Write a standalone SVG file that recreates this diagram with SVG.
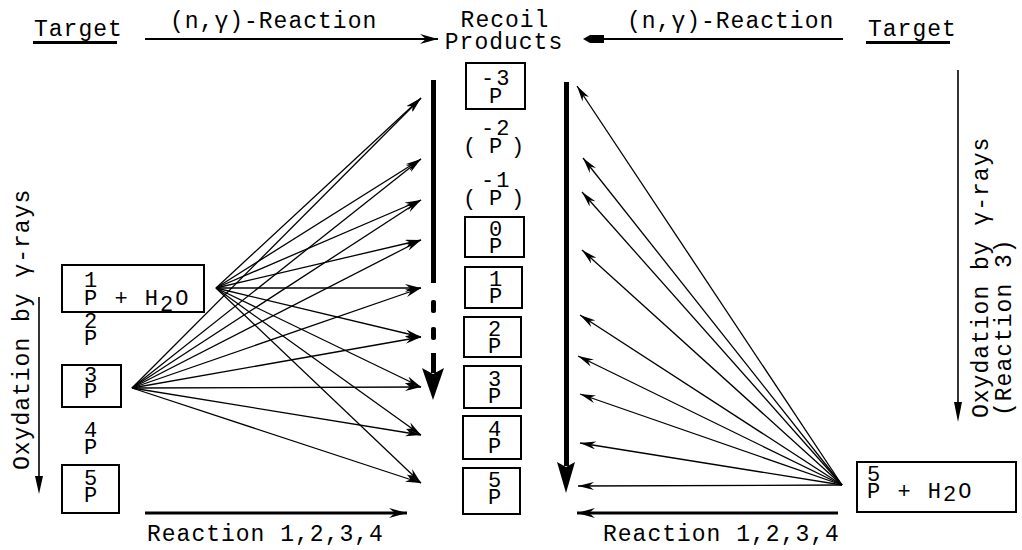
<svg xmlns="http://www.w3.org/2000/svg" width="1022" height="550" viewBox="0 0 1022 550">
<style>
.t{font-family:"Liberation Mono","DejaVu Sans Mono",monospace;font-size:23px;letter-spacing:1px;fill:#000}
.s{font-family:"Liberation Mono","DejaVu Sans Mono",monospace;font-size:22px;letter-spacing:2px;fill:#000}
.b{fill:none;stroke:#000;stroke-width:2}
.fan line{stroke:#000;stroke-width:1.3;marker-end:url(#ah)}
.thin{stroke:#000;stroke-width:1.6;fill:none}
</style>
<defs>
<marker id="ah" viewBox="0 0 16 8" refX="16" refY="4" markerWidth="16" markerHeight="8" orient="auto" markerUnits="userSpaceOnUse">
<path d="M0,0 L16,4 L0,8 L5,4 z" fill="#000"/>
</marker>
<marker id="ahb" viewBox="0 0 18 10" refX="18" refY="5" markerWidth="18" markerHeight="10" orient="auto" markerUnits="userSpaceOnUse">
<path d="M0,0 L18,5 L0,10 L6,5 z" fill="#000"/>
</marker>
</defs>
<rect width="1022" height="550" fill="#fff"/>

<!-- header -->
<g id="target-left">
<text class="t" x="34" y="36">Target</text>
<rect x="33" y="41" width="84" height="3" fill="#000"/>
</g>
<g id="recoil-products">
<text class="t" x="505" y="27" text-anchor="middle">Recoil<tspan x="504" dy="22">Products</tspan></text>
</g>
<g id="target-right">
<text class="t" x="868" y="36">Target</text>
<rect x="866" y="41" width="84" height="3" fill="#000"/>
</g>
<text class="t" x="170" y="28">(n,γ)-Reaction</text>
<text class="t" x="627" y="28">(n,γ)-Reaction</text>

<!-- left side states -->
<g id="left-p1">
<rect class="b" x="62" y="265" width="142" height="47"/>
<text class="s" x="84" y="287">1<tspan x="84" dy="18">P + H</tspan><tspan dy="6">2</tspan><tspan dy="-6">O</tspan></text>
</g>
<g id="left-p2">
<text class="s" x="84" y="328">2<tspan x="84" dy="17">P</tspan></text>
</g>
<g id="left-p3">
<rect class="b" x="62" y="365" width="59" height="42"/>
<text class="s" x="84" y="382">3<tspan x="84" dy="16">P</tspan></text>
</g>
<g id="left-p4">
<text class="s" x="84" y="437">4<tspan x="84" dy="17">P</tspan></text>
</g>
<g id="left-p5">
<rect class="b" x="62" y="465" width="57" height="48"/>
<text class="s" x="84" y="485">5<tspan x="84" dy="17">P</tspan></text>
</g>
<g id="left-oxydation">
<text class="t" transform="translate(29,470) rotate(-90)">Oxydation by γ-rays</text>
<line class="thin" x1="39" y1="297" x2="39" y2="480"/>
<polygon points="35,476 39,494 43,476" fill="#000"/>
</g>

<!-- center column -->
<g id="c-m3">
<rect class="b" x="466" y="63" width="59" height="46"/>
<text class="s" x="481" y="85">-3<tspan x="489" dy="18">P</tspan></text>
</g>
<g id="c-m2">
<text class="s" x="481" y="135">-2<tspan x="463" dy="18">(</tspan><tspan x="489">P</tspan><tspan x="511">)</tspan></text>
</g>
<g id="c-m1">
<text class="s" x="481" y="187">-1<tspan x="463" dy="18">(</tspan><tspan x="489">P</tspan><tspan x="511">)</tspan></text>
</g>
<g id="c-0">
<rect class="b" x="465" y="217" width="59" height="40"/>
<text class="s" x="489" y="236">0<tspan x="489" dy="17">P</tspan></text>
</g>
<g id="c-1">
<rect class="b" x="465" y="267" width="57" height="41"/>
<text class="s" x="489" y="286">1<tspan x="489" dy="17">P</tspan></text>
</g>
<g id="c-2">
<rect class="b" x="464" y="317" width="57" height="40"/>
<text class="s" x="488" y="336">2<tspan x="488" dy="17">P</tspan></text>
</g>
<g id="c-3">
<rect class="b" x="464" y="366" width="57" height="42"/>
<text class="s" x="488" y="386">3<tspan x="488" dy="17">P</tspan></text>
</g>
<g id="c-4">
<rect class="b" x="463" y="416" width="58" height="43"/>
<text class="s" x="488" y="436">4<tspan x="488" dy="17">P</tspan></text>
</g>
<g id="c-5">
<rect class="b" x="463" y="468" width="57" height="46"/>
<text class="s" x="488" y="487">5<tspan x="488" dy="17">P</tspan></text>
</g>

<!-- right side -->
<g id="right-p5">
<rect class="b" x="857" y="462" width="159" height="50"/>
<text class="s" x="867" y="481">5<tspan x="867" dy="17">P + H</tspan><tspan dy="3">2</tspan><tspan dy="-3">O</tspan></text>
</g>
<g id="right-oxydation">
<line class="thin" x1="958" y1="70" x2="958" y2="405"/>
<polygon points="954,402 958,422 962,402" fill="#000"/>
<text class="t" transform="translate(988,418) rotate(-90)">Oxydation by γ-rays</text>
<text class="t" transform="translate(1011,416) rotate(-90)">(Reaction 3)</text>
</g>

<text class="t" x="147" y="541">Reaction 1,2,3,4</text>
<text class="t" x="603" y="541">Reaction 1,2,3,4</text>

<!-- connectors -->
<g id="connectors">
<line x1="145" y1="39" x2="438" y2="39" stroke="#000" stroke-width="2" marker-end="url(#ahb)"/>
<line x1="843" y1="39" x2="600" y2="39" stroke="#000" stroke-width="2"/>
<polygon points="583,39 590,35 604,35 604,43 590,43" fill="#000"/>
<line x1="145" y1="513" x2="407" y2="513" stroke="#000" stroke-width="3" marker-end="url(#ahb)"/>
<line x1="838" y1="513" x2="577" y2="513" stroke="#000" stroke-width="3" marker-end="url(#ahb)"/>

<!-- left thick progression bar -->
<rect x="431" y="80" width="5" height="203" fill="#000"/>
<rect x="431" y="300" width="5" height="13" rx="2" fill="#000"/>
<rect x="431" y="327" width="5" height="13" rx="2" fill="#000"/>
<rect x="431" y="353" width="5" height="20" fill="#000"/>
<polygon points="422,368 433,374 444,368 433,400" fill="#000"/>
<!-- right thick progression bar -->
<rect x="564" y="82" width="5" height="384" fill="#000"/>
<polygon points="557,462 566,467 575,462 566,493" fill="#000"/>

<g class="fan">
<line x1="216" y1="288" x2="421" y2="98"/>
<line x1="216" y1="288" x2="421" y2="159"/>
<line x1="216" y1="288" x2="421" y2="200"/>
<line x1="216" y1="288" x2="421" y2="240"/>
<line x1="216" y1="288" x2="421" y2="288"/>
<line x1="216" y1="288" x2="421" y2="337"/>
<line x1="216" y1="288" x2="421" y2="387"/>
<line x1="216" y1="288" x2="421" y2="435"/>
<line x1="216" y1="288" x2="421" y2="483"/>
<line x1="132" y1="388" x2="421" y2="98"/>
<line x1="132" y1="388" x2="421" y2="159"/>
<line x1="132" y1="388" x2="421" y2="200"/>
<line x1="132" y1="388" x2="421" y2="240"/>
<line x1="132" y1="388" x2="421" y2="288"/>
<line x1="132" y1="388" x2="421" y2="337"/>
<line x1="132" y1="388" x2="421" y2="387"/>
<line x1="132" y1="388" x2="421" y2="435"/>
<line x1="132" y1="388" x2="421" y2="483"/>
<line x1="842" y1="485" x2="577" y2="86"/>
<line x1="842" y1="485" x2="583" y2="158"/>
<line x1="842" y1="485" x2="582" y2="192"/>
<line x1="842" y1="485" x2="582" y2="250"/>
<line x1="842" y1="485" x2="580" y2="315"/>
<line x1="842" y1="485" x2="578" y2="356"/>
<line x1="842" y1="485" x2="580" y2="394"/>
<line x1="842" y1="485" x2="580" y2="443"/>
<line x1="842" y1="485" x2="578" y2="486"/>
</g>
</g>
</svg>
